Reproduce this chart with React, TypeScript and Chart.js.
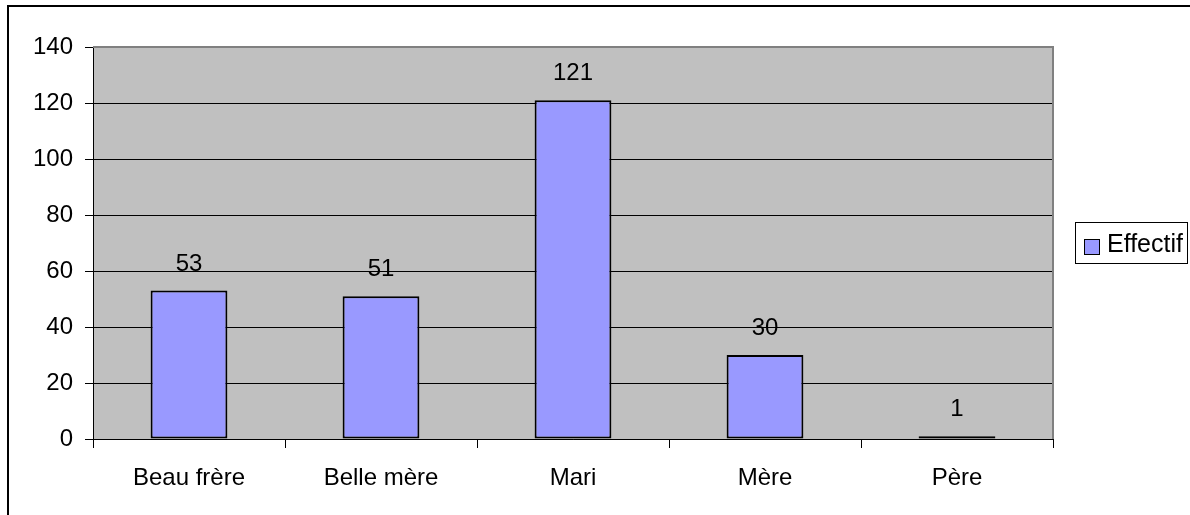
import React, { useEffect, useRef } from "react";
import { Chart, registerables } from "chart.js";

Chart.register(...registerables);

const categories = ["Beau frère", "Belle mère", "Mari", "Mère", "Père"];
const effectif = [53, 51, 121, 30, 1];
const seriesName = "Effectif";
const yTicks = [0, 20, 40, 60, 80, 100, 120, 140];

const FONT = "'Liberation Sans', Arial, sans-serif";
const BAR_FILL = "#9999FF";
const PLOT_BG = "#C0C0C0";

const W = 1190;
const H = 515;
const AREA = { left: 93, top: 47, right: 1053, bottom: 439 };

const framePlugin = {
  id: "frame",
  beforeDraw(chart: any) {
    const { ctx, chartArea } = chart;
    ctx.save();
    ctx.fillStyle = "#ffffff";
    ctx.fillRect(0, 0, W, H);
    ctx.fillStyle = PLOT_BG;
    ctx.fillRect(chartArea.left, chartArea.top, chartArea.right - chartArea.left, chartArea.bottom - chartArea.top);
    ctx.restore();
  },
  afterDatasetsDraw(chart: any) {
    const { ctx, chartArea } = chart;
    const meta = chart.getDatasetMeta(0);
    ctx.save();
    // plot area border (top and right)
    ctx.fillStyle = "#808080";
    ctx.fillRect(chartArea.left, chartArea.top - 1, chartArea.right - chartArea.left + 1, 2);
    ctx.fillRect(chartArea.right - 1, chartArea.top - 1, 2, chartArea.bottom - chartArea.top + 1);
    // value labels above bars
    ctx.fillStyle = "#000000";
    ctx.font = `24px ${FONT}`;
    ctx.textAlign = "center";
    ctx.textBaseline = "alphabetic";
    meta.data.forEach((bar: any, i: number) => {
      ctx.fillText(String(effectif[i]), bar.x, bar.y - 20);
    });
    ctx.restore();
  },
  afterDraw(chart: any) {
    const { ctx } = chart;
    ctx.save();
    // outer frame (top and left edges)
    ctx.fillStyle = "#000000";
    ctx.fillRect(7, 5, W - 7, 2);
    ctx.fillRect(7, 5, 2, H - 5);
    // legend
    ctx.fillStyle = "#ffffff";
    ctx.fillRect(1075, 222, 113, 41);
    ctx.strokeStyle = "#000000";
    ctx.lineWidth = 1;
    ctx.strokeRect(1075.5, 222.5, 112, 41);
    ctx.fillStyle = BAR_FILL;
    ctx.fillRect(1084.5, 239.5, 15, 15);
    ctx.strokeRect(1084.5, 239.5, 15, 15);
    ctx.fillStyle = "#000000";
    ctx.font = `25px ${FONT}`;
    ctx.textAlign = "left";
    ctx.textBaseline = "middle";
    ctx.fillText(seriesName, 1107, 245);
    ctx.restore();
  },
};

export default function App() {
  const canvasRef = useRef<HTMLCanvasElement>(null);

  useEffect(() => {
    if (!canvasRef.current) return;
    const chart = new Chart(canvasRef.current, {
      type: "bar",
      data: {
        labels: categories,
        datasets: [
          {
            label: seriesName,
            data: effectif,
            backgroundColor: BAR_FILL,
            borderColor: "#000000",
            borderWidth: 2,
            borderSkipped: false,
            categoryPercentage: 1,
            barPercentage: 0.4,
          },
        ],
      },
      options: {
        responsive: false,
        animation: false,
        layout: {
          padding: { left: 0, top: AREA.top, right: W - AREA.right, bottom: 0 },
        },
        plugins: {
          legend: { display: false },
          tooltip: { enabled: false },
        },
        scales: {
          x: {
            offset: true,
            grid: {
              offset: true,
              drawOnChartArea: false,
              drawTicks: true,
              tickLength: 9,
              color: "#000000",
              tickColor: "#000000",
            },
            border: { color: "#000000", width: 1 },
            ticks: {
              color: "#000000",
              font: { family: FONT, size: 24 },
              padding: 16,
              maxRotation: 0,
            },
            afterFit(scale: any) {
              scale.height = H - AREA.bottom;
            },
          },
          y: {
            min: 0,
            max: 140,
            afterBuildTicks(scale: any) {
              scale.ticks = yTicks.map((v) => ({ value: v }));
            },
            grid: {
              color: "#000000",
              tickColor: "#000000",
              tickLength: 8,
              lineWidth: 1,
            },
            border: { color: "#000000", width: 1 },
            ticks: {
              color: "#000000",
              font: { family: FONT, size: 24 },
              padding: 12,
            },
            afterFit(scale: any) {
              scale.width = AREA.left;
            },
          },
        },
      },
      plugins: [framePlugin],
    });
    return () => chart.destroy();
  }, []);

  return (
    <div style={{ position: "fixed", left: 0, top: 0, width: W, height: H, background: "#fff" }}>
      <canvas ref={canvasRef} width={W} height={H} style={{ display: "block", width: W, height: H }} />
    </div>
  );
}
